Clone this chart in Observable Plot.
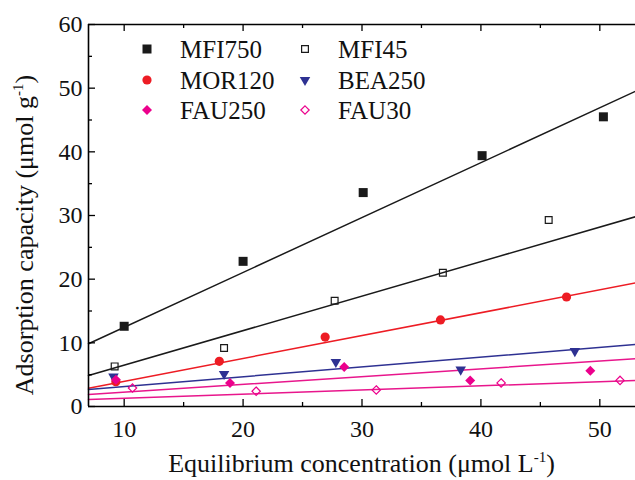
<!DOCTYPE html>
<html><head><meta charset="utf-8">
<script src="https://cdn.jsdelivr.net/npm/d3@7"></script>
<script src="https://cdn.jsdelivr.net/npm/@observablehq/plot@0.6"></script>
<style>body{margin:0;background:#fff} #chart{width:635px;height:480px}</style>
</head><body><div id="chart"></div>
<script>
// ---- data ----
const seriesNames = ["MFI750", "MFI45", "MOR120", "BEA250", "FAU250", "FAU30"];

const xMFI750 = [10.0, 20.0, 30.1, 40.1, 50.3];
const yMFI750 = [12.6, 22.8, 33.6, 39.4, 45.5];
const xMFI45  = [9.2, 18.4, 27.7, 36.8, 45.7];
const yMFI45  = [6.3, 9.2, 16.6, 21.0, 29.3];
const xMOR120 = [9.3, 18.0, 26.9, 36.6, 47.2];
const yMOR120 = [3.9, 7.1, 10.9, 13.6, 17.2];
const xBEA250 = [9.1, 18.4, 27.8, 38.3, 47.9];
const yBEA250 = [4.7, 5.1, 7.0, 5.8, 8.7];
const xFAU250 = [9.3, 18.9, 28.5, 39.1, 49.2];
const yFAU250 = [4.2, 3.7, 6.2, 4.1, 5.6];
const xFAU30  = [10.7, 21.1, 31.2, 41.7, 51.7];
const yFAU30  = [2.9, 2.4, 2.6, 3.7, 4.1];

// linear fit lines: y = slope * x + intercept
const fitSlope     = [0.862, 0.542, 0.359, 0.154, 0.122, 0.0648];
const fitIntercept = [3.82, 1.08, 0.37, 1.59, 1.03, 0.65];

const xTicks = [10, 20, 30, 40, 50];
const xMinorTicks = [15, 25, 35, 45];
const yTicks = [0, 10, 20, 30, 40, 50, 60];
const yMinorTicks = [5, 15, 25, 35, 45, 55];
const xDomain = [7, 53];
const yDomain = [0, 60];

// ---- styles ----
const triDown = {draw(ctx, size) {
  const a = Math.sqrt(4 * size / Math.sqrt(3)), h = Math.sqrt(3) / 2 * a;
  ctx.moveTo(0, 2 * h / 3); ctx.lineTo(a / 2, -h / 3); ctx.lineTo(-a / 2, -h / 3); ctx.closePath();
}};
const diamond = {draw(ctx, size) {
  const r = Math.sqrt(size / 2);
  ctx.moveTo(0, -r); ctx.lineTo(r, 0); ctx.lineTo(0, r); ctx.lineTo(-r, 0); ctx.closePath();
}};
const symbols = [d3.symbolSquare, d3.symbolSquare, d3.symbolCircle, triDown, diamond, diamond];
const fills   = ["#1a1a1a", "none", "#ed1c24", "#2e3192", "#ec008c", "none"];
const strokes = ["none", "#1a1a1a", "none", "none", "none", "#ec008c"];
const radii   = [5.08, 3.83, 4.6, 3.9, 3.99, 3.34];
const lineColors = ["#1a1a1a", "#1a1a1a", "#ed1c24", "#2e3192", "#e8168c", "#e8168c"];

const xs = [xMFI750, xMFI45, xMOR120, xBEA250, xFAU250, xFAU30];
const ys = [yMFI750, yMFI45, yMOR120, yBEA250, yFAU250, yFAU30];

const points = seriesNames.map((name, i) => xs[i].map((x, j) => ({series: name, x, y: ys[i][j]})));
const fits = seriesNames.map((name, i) => xDomain.map(x => ({series: name, x, y: fitSlope[i] * x + fitIntercept[i]})));

const W = 635, H = 480, mL = 88, mR = 0, mT = 24, mB = 74;
const fw = W - mL - mR, fh = H - mT - mB;
const FONT = "Liberation Serif, Times New Roman, serif";

const marks = [];
fits.forEach((f, i) => marks.push(Plot.line(f, {x: "x", y: "y", stroke: lineColors[i], strokeWidth: 1.5})));
points.forEach((p, i) => marks.push(Plot.dot(p, {x: "x", y: "y", symbol: symbols[i], r: radii[i],
  fill: fills[i], stroke: strokes[i], strokeWidth: 1.2})));

// inward ticks
marks.push(Plot.tickX(xTicks, {x: d => d, insetTop: fh - 7, stroke: "#000", strokeWidth: 1.3}));
marks.push(Plot.tickX(xMinorTicks, {x: d => d, insetTop: fh - 4, stroke: "#000", strokeWidth: 1.3}));
marks.push(Plot.tickX(xTicks, {x: d => d, insetBottom: fh - 7, stroke: "#000", strokeWidth: 1.3}));
marks.push(Plot.tickX(xMinorTicks, {x: d => d, insetBottom: fh - 4, stroke: "#000", strokeWidth: 1.3}));
marks.push(Plot.tickY(yTicks, {y: d => d, insetRight: fw - 7, stroke: "#000", strokeWidth: 1.3}));
marks.push(Plot.tickY(yMinorTicks, {y: d => d, insetRight: fw - 4, stroke: "#000", strokeWidth: 1.3}));
// frame lines
marks.push(Plot.ruleY([yDomain[0]], {stroke: "#000", strokeWidth: 1.6}));
marks.push(Plot.ruleY([yDomain[1]], {stroke: "#000", strokeWidth: 1.6}));
marks.push(Plot.ruleX([xDomain[0]], {stroke: "#000", strokeWidth: 1.6}));
// axis labels
marks.push(Plot.axisX({ticks: xTicks, tickSize: 0, tickPadding: 13, tickFormat: d => d, label: null, fontSize: 24}));
marks.push(Plot.axisY({ticks: yTicks, tickSize: 0, tickPadding: 6, tickFormat: d => d, label: null, fontSize: 24}));

const chart = Plot.plot({
  width: W, height: H, marginLeft: mL, marginRight: mR, marginTop: mT, marginBottom: mB,
  x: {domain: xDomain}, y: {domain: yDomain},
  style: {fontFamily: FONT, color: "#111", background: "#fff", overflow: "visible"},
  marks
});
document.getElementById("chart").appendChild(chart);

// titles and legend
const svg = d3.select(chart);
const xt = svg.append("text").attr("x", mL + fw / 2).attr("y", 472).attr("text-anchor", "middle")
  .attr("font-family", FONT).attr("font-size", 26).attr("fill", "#111");
xt.append("tspan").text("Equilibrium concentration (\u03bcmol L");
xt.append("tspan").attr("dy", -10).attr("font-size", 15).text("-1");
xt.append("tspan").attr("dy", 10).text(")");

const yt = svg.append("text").attr("transform", `translate(33,${235}) rotate(-90)`).attr("text-anchor", "middle")
  .attr("font-family", FONT).attr("font-size", 26).attr("fill", "#111");
yt.append("tspan").text("Adsorption capacity (\u03bcmol g");
yt.append("tspan").attr("dy", -10).attr("font-size", 15).text("-1");
yt.append("tspan").attr("dy", 10).text(")");

const legCols = [147, 305], legRows = [49, 80, 110], legTextOffset = 33;
seriesNames.forEach((name, i) => {
  const cx = legCols[i % 2], cy = legRows[Math.floor(i / 2)];
  svg.append("path").attr("transform", `translate(${cx},${cy})`)
    .attr("d", d3.symbol(symbols[i], radii[i] * radii[i] * Math.PI)())
    .attr("fill", fills[i]).attr("stroke", strokes[i]).attr("stroke-width", 1.2);
  svg.append("text").attr("x", cx + legTextOffset).attr("y", cy).attr("dy", "0.35em")
    .attr("text-anchor", "start")
    .attr("font-family", FONT).attr("font-size", 25).attr("fill", "#111").text(name);
});
</script>
</body></html>
